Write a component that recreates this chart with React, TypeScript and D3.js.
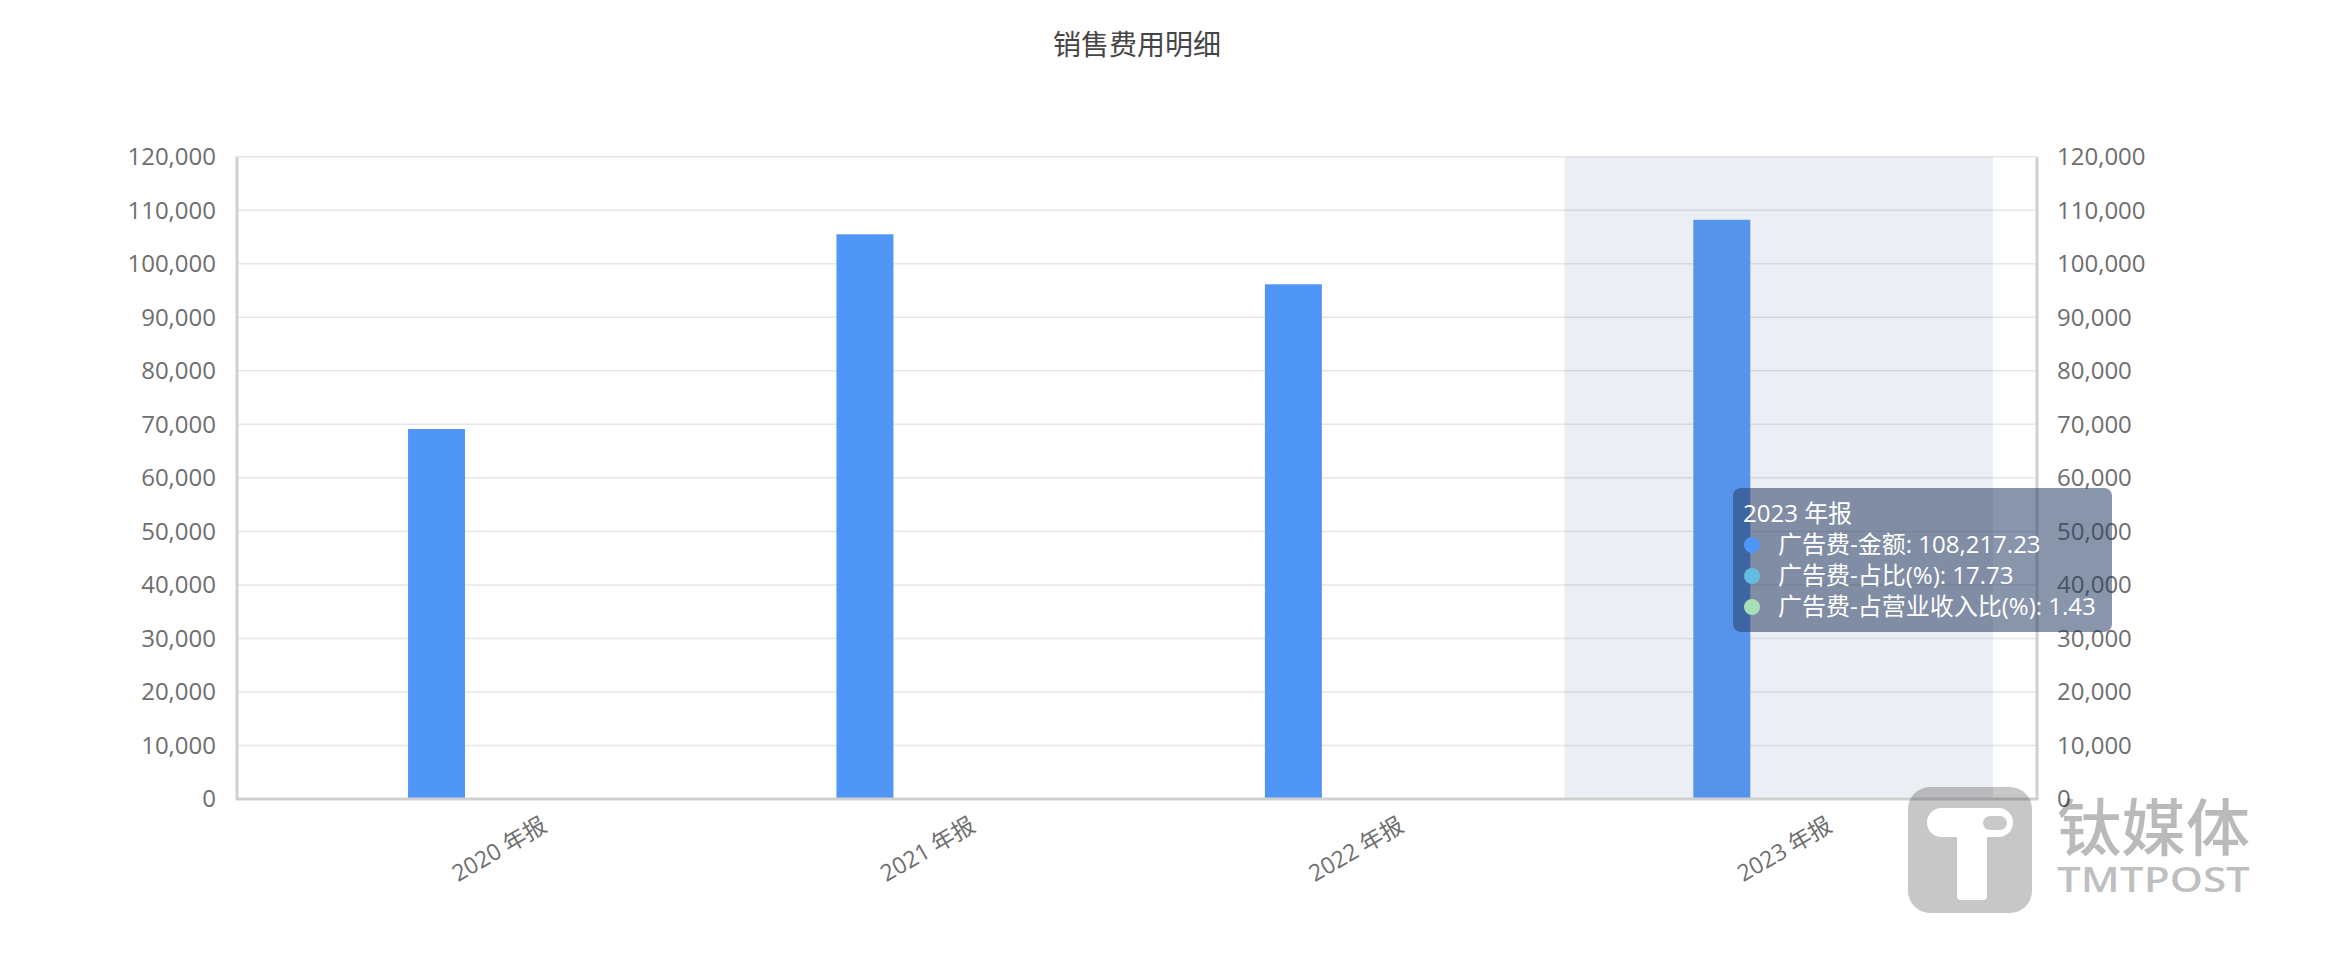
import React from "react";
import * as d3 from "d3";

const categories = ["2020 年报", "2021 年报", "2022 年报", "2023 年报"];
const adAmount = [69120, 105500, 96160, 108217.23];
const seriesNames = ["广告费-金额", "广告费-占比(%)", "广告费-占营业收入比(%)"];
const seriesColors = ["#5096f7", "#63bde3", "#a6e0b6"];
const yTicks = [0, 10000, 20000, 30000, 40000, 50000, 60000, 70000, 80000, 90000, 100000, 110000, 120000];
const tooltipCategory = "2023 年报";
const tooltipValues = ["108,217.23", "17.73", "1.43"];

const W = 2352;
const H = 958;
const LATIN = "'Open Sans', sans-serif";
const CJK = "'Noto Sans CJK SC', sans-serif";

function Mixed({ text }: { text: string }) {
  const runs: { s: string; cjk: boolean }[] = [];
  for (const ch of text) {
    const cjk = /[\u3000-\u9fff\uff00-\uffef]/.test(ch);
    const last = runs[runs.length - 1];
    if (last && last.cjk === cjk) last.s += ch;
    else runs.push({ s: ch, cjk });
  }
  return (
    <>
      {runs.map((r, i) => (
        <tspan key={i} fontFamily={r.cjk ? CJK : LATIN} style={{ whiteSpace: "pre" }}>
          {r.s}
        </tspan>
      ))}
    </>
  );
}

export default function App() {
  const plotLeft = 237;
  const plotRight = 2037;
  const plotTop = 156.7;
  const plotBottom = 799;

  const y = d3.scaleLinear().domain([0, 120000]).range([plotBottom, plotTop]);
  const x = d3.scaleBand<string>().domain(categories).range([279.3, 1993]).padding(0);
  const bw = x.bandwidth();
  const barW = bw * 0.133;
  const sub = d3
    .scaleBand<string>()
    .domain(seriesNames)
    .range([bw / 2 - 1.5 * barW, bw / 2 + 1.5 * barW])
    .padding(0);
  const fmt = d3.format(",");

  const hl = categories.indexOf(tooltipCategory);
  const hlX = x(categories[hl]) as number;

  const tipX = 1733;
  const tipY = 488;
  const tipLines = [522, 553, 584, 615];

  return (
    <svg
      width={W}
      height={H}
      style={{ position: "absolute", left: 0, top: 0, background: "#fff" }}
      fontFamily={LATIN}
    >
      <text x={1137} y={55} textAnchor="middle" fontSize={28} fill="#464646" fontFamily={CJK}>
        销售费用明细
      </text>

      {yTicks.map((t) => (
        <line
          key={"g" + t}
          x1={plotLeft}
          x2={plotRight}
          y1={y(t)}
          y2={y(t)}
          stroke="#e6e6e6"
          strokeWidth={1.5}
        />
      ))}

      {categories.map((c, i) => (
        <rect
          key={"b" + c}
          x={(x(c) as number) + (sub(seriesNames[0]) as number)}
          y={y(adAmount[i])}
          width={sub.bandwidth()}
          height={plotBottom - y(adAmount[i])}
          fill={seriesColors[0]}
        />
      ))}

      <rect
        x={hlX}
        y={plotTop}
        width={bw}
        height={plotBottom - plotTop}
        fill="rgba(120,140,170,0.15)"
      />

      <line x1={plotLeft} x2={plotLeft} y1={plotTop} y2={plotBottom} stroke="#d0d0d0" strokeWidth={3} />
      <line x1={plotRight} x2={plotRight} y1={plotTop} y2={plotBottom} stroke="#d0d0d0" strokeWidth={3} />
      <line x1={plotLeft - 1.5} x2={plotRight + 1.5} y1={plotBottom} y2={plotBottom} stroke="#d0d0d0" strokeWidth={3} />

      {yTicks.map((t) => (
        <text key={"l" + t} x={216} y={y(t)} dy="0.35em" textAnchor="end" fontSize={24} fill="#6e6e6e">
          {fmt(t)}
        </text>
      ))}
      {yTicks.map((t) => (
        <text key={"r" + t} x={2057} y={y(t)} dy="0.35em" textAnchor="start" fontSize={24} fill="#6e6e6e">
          {fmt(t)}
        </text>
      ))}

      {categories.map((c) => {
        const px = (x(c) as number) + bw / 2 + 55;
        const py = 830;
        return (
          <text
            key={"x" + c}
            x={px}
            y={py}
            textAnchor="end"
            fontSize={23}
            fill="#6e6e6e"
            transform={`rotate(-30 ${px} ${py})`}
          >
            <Mixed text={c} />
          </text>
        );
      })}

      <g>
        <rect x={1908} y={787} width={124} height={126} rx={22} fill="rgba(0,0,0,0.22)" />
        <rect x={1927} y={808} width={86} height={29} rx={14.5} fill="#fff" />
        <rect x={1957} y={828} width={30} height={72} rx={4} fill="#fff" />
        <rect x={1983} y={816} width={24} height={14} rx={7} fill="#c9c9c9" />
        <text
          x={2057}
          y={851}
          fontSize={62}
          fontWeight={500}
          fill="rgba(0,0,0,0.27)"
          fontFamily={CJK}
          textLength={193}
          lengthAdjust="spacingAndGlyphs"
        >
          钛媒体
        </text>
        <text
          x={2057}
          y={892}
          fontSize={35}
          fontWeight={600}
          fill="rgba(0,0,0,0.27)"
          fontFamily={LATIN}
          textLength={193}
          lengthAdjust="spacingAndGlyphs"
        >
          TMTPOST
        </text>
      </g>

      <g>
        <rect x={tipX} y={tipY} width={379} height={144} rx={8} fill="rgba(40,62,100,0.55)" />
        <text x={1743} y={tipLines[0]} fontSize={24} fill="#fff">
          <Mixed text={tooltipCategory} />
        </text>
        {seriesNames.map((s, i) => (
          <g key={"t" + s}>
            <circle cx={1752} cy={tipLines[i + 1] - 8} r={8} fill={seriesColors[i]} />
            <text x={1778} y={tipLines[i + 1]} fontSize={24} fill="#fff">
              <Mixed text={`${s}: ${tooltipValues[i]}`} />
            </text>
          </g>
        ))}
      </g>
    </svg>
  );
}
